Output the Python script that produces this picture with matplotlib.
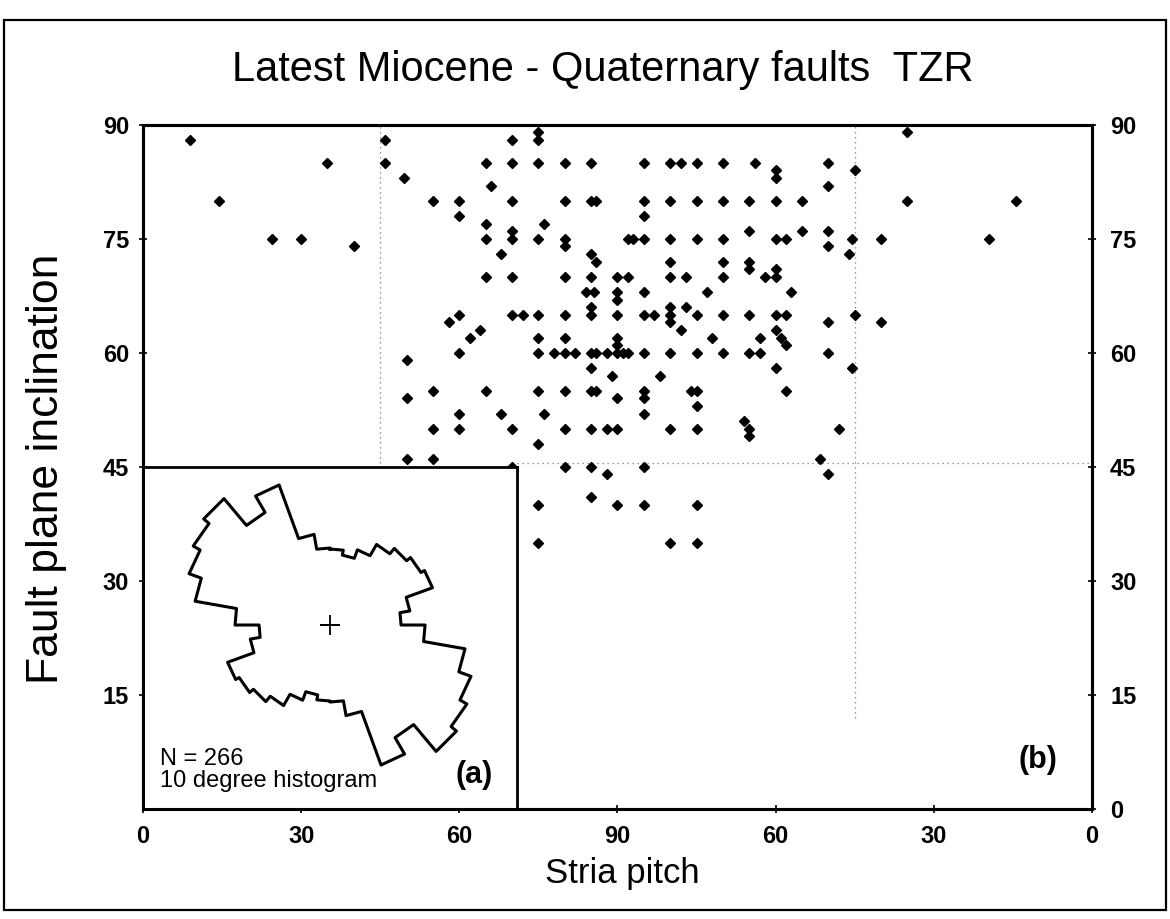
import numpy as np
import matplotlib
matplotlib.use('Agg')
import matplotlib.pyplot as plt
from matplotlib.patches import Rectangle

plt.rcParams['font.family'] = ['Liberation Sans', 'DejaVu Sans']

#---------------------------------------DATA---------------------------------------#
# stria pitch on a 0-180 scale (90 in the middle) and fault plane dip
pitch = [9, 35, 14.5, 24.5, 30, 40, 46, 46, 49.5, 55, 60, 60, 60, 58, 60, 50, 55, 50, 60, 55, 60, 50, 55,
         70, 75, 75,
         65, 70, 75, 80, 85, 95, 100, 102, 105, 110,
         66,
         70, 80, 85, 86, 95, 100, 105, 110,
         95, 65, 76, 70,
         70, 65, 75, 80, 80, 92, 93, 95, 100, 105, 110,
         68, 85, 86, 100, 110,
         65, 70, 80, 85, 90, 92, 100, 103, 110,
         84, 85.5, 90, 90, 95, 107,
         85, 85, 100, 100, 100, 103,
         70, 72, 75, 80, 90, 95, 97, 105, 110,
         102, 108, 64, 62, 75, 80, 90, 90,
         75, 78, 80, 82, 85, 86, 88, 90, 91, 92, 95, 100, 105, 110,
         85, 89, 98,
         65, 75, 80, 85, 86, 90, 95, 95, 104, 105, 105,
         95, 68, 76,
         70, 80, 85, 88, 90, 100, 105,
         75,
         70, 80, 85, 88, 95,
         85, 75, 90, 95, 105,
         75, 100, 105,
         145, 116, 120, 120, 130, 130, 135,
         115, 120, 125, 145, 165.5,
         115, 120, 122, 125, 130, 130, 134.5, 134, 140, 160.5,
         115, 115, 120, 120, 118, 123,
         115, 120, 122, 130, 135, 140,
         120, 117, 121, 122,
         115, 117, 130, 134.5, 120, 122,
         114, 115, 115, 132, 128.5, 130]
dip = [88, 85, 80, 75, 75, 74, 88, 85, 83, 80, 80, 78, 65, 64, 60, 59, 55, 54, 52, 50, 50, 46, 46,
       88, 89, 88,
       85, 85, 85, 85, 85, 85, 85, 85, 85, 85,
       82,
       80, 80, 80, 80, 80, 80, 80, 80,
       78, 77, 77, 76,
       75, 75, 75, 75, 74, 75, 75, 75, 75, 75, 75,
       73, 73, 72, 72, 72,
       70, 70, 70, 70, 70, 70, 70, 70, 70,
       68, 68, 68, 67, 68, 68,
       66, 65, 66, 65, 64, 66,
       65, 65, 65, 65, 65, 65, 65, 65, 65,
       63, 62, 63, 62, 62, 62, 62, 61,
       60, 60, 60, 60, 60, 60, 60, 60, 60, 60, 60, 60, 60, 60,
       58, 57, 57,
       55, 55, 55, 55, 55, 54, 55, 54, 55, 55, 53,
       52, 52, 52,
       50, 50, 50, 50, 50, 50, 50,
       48,
       45, 45, 45, 44, 45,
       41, 40, 40, 40, 40,
       35, 35, 35,
       89, 85, 84, 83, 85, 82, 84,
       80, 80, 80, 80, 80,
       76, 75, 75, 76, 76, 74, 75, 73, 75, 75,
       72, 71, 71, 70, 70, 68,
       65, 65, 65, 64, 65, 64,
       63, 62, 62, 61,
       60, 60, 60, 58, 58, 55,
       51, 50, 49, 50, 46, 44]

# rose diagram (a): 10 degree strike histogram, 0-180, repeated for 180-360
rose_start = list(range(0, 180, 10))
rose_len = [7.6, 7.1, 8.0, 9.3, 10.0, 10.5, 10.9, 8.1, 7.1, 9.5,
            13.7, 15.0, 15.8, 16.5, 13.0, 14.9, 9.2, 7.7]
n_faults = 266

x_ticks = [0, 30, 60, 90, 120, 150, 180]
x_labels = ['0', '30', '60', '90', '60', '30', '0']
y_ticks_left = [15, 30, 45, 60, 75, 90]
y_ticks_right = [0, 15, 30, 45, 60, 75, 90]

# dotted guide lines
pitch_guides = [45, 135]
dip_guide = 45.5
#---------------------------------------DATA---------------------------------------#

fig = plt.figure(figsize=(11.7, 9.19), dpi=100)

ax = fig.add_axes([0.1222, 0.120, 0.8111, 0.7443])
ax.set_xlim(0, 180)
ax.set_ylim(0, 90)

ax.plot(pitch, dip, 'D', color='black', ms=5.5, zorder=3)

# dotted lines
ax.plot([pitch_guides[0]] * 2, [dip_guide, 90], color='#777777', lw=0.9, ls=(0, (1, 3)), zorder=1)
ax.plot([pitch_guides[1]] * 2, [12, 90], color='#777777', lw=0.9, ls=(0, (1, 3)), zorder=1)
ax.plot([71, 180], [dip_guide, dip_guide], color='#777777', lw=0.9, ls=(0, (1, 3)), zorder=1)

ax.set_xticks(x_ticks, x_labels)
ax.set_yticks(y_ticks_left)
ax.tick_params(direction='inout', length=6, width=1.2, labelsize=17, pad=7)
ax.tick_params(axis='x', pad=9)
for lab in ax.get_xticklabels() + ax.get_yticklabels():
    lab.set_fontweight('bold')
for s in ax.spines.values():
    s.set_linewidth(2.2)

ax2 = ax.twinx()
ax2.set_ylim(0, 90)
ax2.set_yticks(y_ticks_right)
ax2.tick_params(direction='inout', length=6, width=1.2, labelsize=17, pad=10)
for lab in ax2.get_yticklabels():
    lab.set_fontweight('bold')
for s in ax2.spines.values():
    s.set_linewidth(2.2)

ax.text(0.943, 0.071, '(b)', transform=ax.transAxes, fontsize=22, fontweight='bold',
        ha='center', va='center')

# inset box (a)
ax_in = ax.inset_axes([0, 0, 71, 45], transform=ax.transData)
ax_in.set_xticks([])
ax_in.set_yticks([])
for s in ax_in.spines.values():
    s.set_linewidth(2.0)
ax_in.text(0.045, 0.05, 'N = ' + str(n_faults) + '\n10 degree histogram', transform=ax_in.transAxes,
           fontsize=17, ha='left', va='bottom', linespacing=0.95)
ax_in.text(0.885, 0.10, '(a)', transform=ax_in.transAxes, fontsize=22, fontweight='bold',
           ha='center', va='center')

# rose diagram, outline only
ax_r = fig.add_axes([0.1368, 0.1349, 0.2906, 0.370], projection='polar')
ax_r.set_theta_zero_location('N')
ax_r.set_theta_direction(-1)
edges = []
radii = []
for half in (0, 180):
    for b, r in zip(rose_start, rose_len):
        edges += [b + half, b + half + 10]
        radii += [r, r]
edges.append(edges[0])
radii.append(radii[0])
ax_r.plot(np.deg2rad(edges), radii, color='black', lw=2.2)
ax_r.plot(0, 0, marker='+', ms=14, mew=1.3, color='black')
ax_r.set_rlim(0, 17)
ax_r.set_axis_off()

fig.text(0.515, 0.924, 'Latest Miocene - Quaternary faults  TZR', fontsize=30, ha='center', va='center')
fig.text(0.040, 0.490, 'Fault plane inclination', fontsize=32, rotation=90, ha='center', va='center')
fig.text(0.532, 0.050, 'Stria pitch', fontsize=25, ha='center', va='center')

fig.add_artist(Rectangle((4 / 1170, 1 - 910 / 919), 1162 / 1170, 890 / 919, transform=fig.transFigure,
                         fill=False, lw=1.6, color='black'))

fig.savefig('out.png', dpi=100)
